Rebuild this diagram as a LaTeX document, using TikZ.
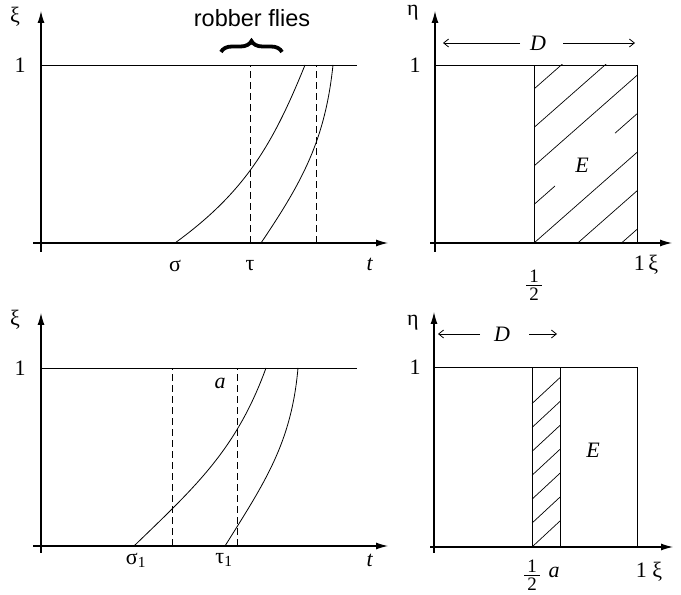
\documentclass[tikz,border=0pt]{standalone}
\usepackage{amsmath}
\usepackage{fontspec}
\setmainfont{Liberation Serif}
\newfontfamily\labsans{Liberation Sans}
\usetikzlibrary{arrows.meta,decorations.pathreplacing}
\newcommand\halfnum{\ensuremath{\genfrac{}{}{1.3pt}{}{\mbox{\fontsize{19}{19}\selectfont\,1\,}}{\mbox{\fontsize{19}{19}\selectfont\,2\,}}}}
\tikzset{
  pl axis/.style={line width=1.1pt, -{Latex[length=12pt, width=7pt]}},
  pl line/.style={line width=0.8pt},
  pl dash/.style={line width=0.8pt, dash pattern=on 7pt off 4pt},
  pl hatch/.style={line width=0.7pt},
  pl arr/.style={line width=0.8pt, -{Straight Barb[length=5pt, width=8pt]}},
  pl lab/.style={font=\fontsize{22}{24}\selectfont, inner sep=0pt},
  pl note/.style={font=\labsans\fontsize{23.5}{26}\selectfont, inner sep=0pt},
  pl brace/.style={decorate, decoration={brace, amplitude=11pt}, line width=3.8pt},
}
\begin{document}
\begin{tikzpicture}[x=1pt, y=1pt]
  \useasboundingbox (0,0) rectangle (681,595);
  % top left: paths in the (t, xi) plane
  \draw[pl axis] (41,343) -- (41,584);
  \draw[pl axis] (33,352) -- (388,352);
  \draw[pl line] (41,530) -- (357,530);
  \draw[pl dash] (250,352) -- (250,530);
  \draw[pl dash] (316,352) -- (316,530);
  \draw[pl line] (175,352) to[out=36, in=-112] (305,530);
  \draw[pl line] (261,352) to[out=56, in=-96] (333,530);
  \node[pl lab] (xiA) at (15,578) {ξ};
  \node[pl lab] (oneA) at (20,530) {1};
  \node[pl lab] (sigA) at (175,329) {σ};
  \node[pl lab] (tauA) at (250,329) {τ};
  \node[pl lab] (tA) at (370,331) {\textit{t}};
  \node[pl note] (rob) at (252,577) {robber flies};
  \draw[pl brace] (221,543) -- (282,543);
  % top right: square D, hatched part E
  \draw[pl axis] (435,343) -- (435,584);
  \draw[pl axis] (430,352) -- (672,352);
  \draw[pl line] (435,530) -- (637,530) -- (637,352);
  \draw[pl line] (534,352) -- (534,530);
  \begin{scope}
    \clip (534,352) rectangle (637,530);
    \foreach \y in {275,313.5,352,429,467.5,506}
      \draw[pl hatch] (534,\y) -- ++(120,105.6);
  \end{scope}
  \draw[pl hatch] (534,390.5) -- (555,409);
  \draw[pl hatch] (615,461.8) -- (637,481.2);
  \node[pl lab, fill=white, inner sep=1pt] (EA) at (582,430) {\textit{E}};
  \node[pl lab] (DA) at (538,552) {\textit{D}};
  \coordinate (DAl) at (443,552);
  \coordinate (DAr) at (635,552);
  \draw[pl arr] ([xshift=-18pt]DA.center) -- (DAl);
  \draw[pl arr] ([xshift=25pt]DA.center) -- (DAr);
  \node[pl lab] (etaA) at (413,582) {η};
  \node[pl lab] (oneB) at (415,530) {1};
  \node[pl lab] (halfA) at (534,310) {\halfnum};
  \node[pl lab] (xiB) at (646,330) {1\,ξ};
  % bottom left: paths with sigma_1, tau_1
  \draw[pl axis] (41,42) -- (41,282);
  \draw[pl axis] (33,49) -- (388,49);
  \draw[pl line] (41,227) -- (357,227);
  \draw[pl dash] (172,49) -- (172,227);
  \draw[pl dash] (237,49) -- (237,227);
  \draw[pl line] (134,49) to[out=44, in=-110] (266,227);
  \draw[pl line] (225,49) to[out=58, in=-95] (298,227);
  \node[pl lab] (xiC) at (15,275) {ξ};
  \node[pl lab] (oneC) at (20,227) {1};
  \node[pl lab] (aC) at (220,212) {\textit{a}};
  \node[pl lab] (sigC) at (136,35) {σ\textsubscript{1}};
  \node[pl lab] (tauC) at (224,35) {τ\textsubscript{1}};
  \node[pl lab] (tC) at (370,35) {\textit{t}};
  % bottom right: narrow strip between 1/2 and a
  \draw[pl axis] (434,42) -- (434,283);
  \draw[pl axis] (430,48) -- (673,48);
  \draw[pl line] (434,228) -- (637,228) -- (637,48);
  \draw[pl line] (532,48) -- (532,228);
  \draw[pl line] (560,48) -- (560,228);
  \foreach \y in {48,71.9,95.8,119.7,143.6,167.5,191.4}
    \draw[pl hatch] (532,\y) -- ++(28,26);
  \node[pl lab] (EB) at (593,145) {\textit{E}};
  \node[pl lab] (DB) at (502,261) {\textit{D}};
  \coordinate (DBl) at (438,261);
  \coordinate (DBr) at (557,261);
  \draw[pl arr] ([xshift=-22pt]DB.center) -- (DBl);
  \draw[pl arr] ([xshift=27pt]DB.center) -- (DBr);
  \node[pl lab] (etaB) at (413,272) {η};
  \node[pl lab] (oneD) at (415,228) {1};
  \node[pl lab] (halfB) at (532,20) {\halfnum};
  \node[pl lab] (aD) at (554,23) {\textit{a}};
  \node[pl lab] (xiD) at (649,23) {1\ ξ};
\end{tikzpicture}
\end{document}
